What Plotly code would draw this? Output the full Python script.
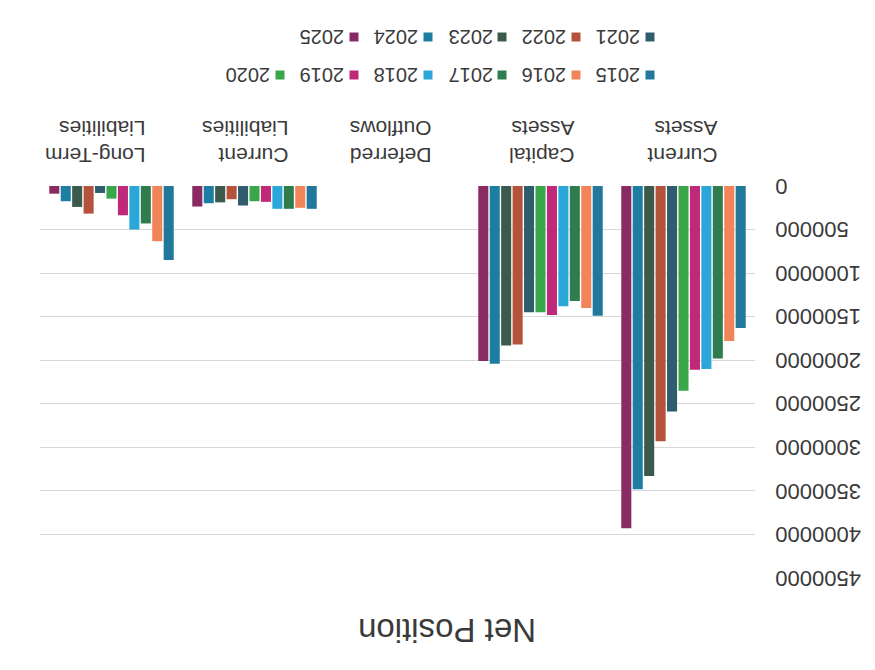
import plotly.graph_objects as go

categories = ["Current<br>Assets", "Capital<br>Assets", "Deferred<br>Outflows",
              "Current<br>Liabilities", "Long-Term<br>Liabilities"]
years = ["2015", "2016", "2017", "2018", "2019", "2020",
         "2021", "2022", "2023", "2024", "2025"]
colors = ["#22789a", "#f2845a", "#2f7d4e", "#2ba6d8", "#c0287a", "#3aa64a",
          "#2f5d6e", "#b5523b", "#3b5a4b", "#1c7ea0", "#8a2a62"]

values = {
    "2015": [1630000, 1490000, 0, 262000, 850000],
    "2016": [1780000, 1400000, 0, 250000, 634000],
    "2017": [1980000, 1320000, 0, 262000, 430000],
    "2018": [2100000, 1380000, 0, 262000, 500000],
    "2019": [2110000, 1480000, 0, 182000, 336000],
    "2020": [2350000, 1450000, 0, 175000, 145000],
    "2021": [2590000, 1450000, 0, 224000, 80000],
    "2022": [2930000, 1820000, 0, 152000, 317000],
    "2023": [3330000, 1830000, 0, 188000, 240000],
    "2024": [3480000, 2040000, 0, 198000, 175000],
    "2025": [3930000, 2010000, 0, 236000, 88000],
}

title_text = "Net Position"
y_ticks = [0, 500000, 1000000, 1500000, 2000000, 2500000,
           3000000, 3500000, 4000000, 4500000]

FONT = "Liberation Sans, Arial, sans-serif"
TXT = "#3a3a3a"

fig = go.Figure()
for yr, col in zip(years, colors):
    fig.add_trace(go.Bar(name=yr, x=categories, y=values[yr],
                         marker=dict(color=col, line=dict(width=0)),
                         showlegend=False))

# chart is shown rotated 180 degrees (as in the scanned reference)
W, H = 875, 670
OFF = 8  # page body offset
L, R, T, B = 40 - OFF, 120 + OFF, 186 - OFF, 92 + OFF
pw, ph = W - L - R, H - T - B

def px2paper(x, y):
    return (x - OFF - L) / pw, (H - B - (y - OFF)) / ph

annotations = []
shapes = []
# legend rows (rotated): row of 2021-2025 on top, 2015-2020 below
rows = [(years[6:], 37), (years[:6], 75)]
for row_years, py in rows:
    for i, yr in enumerate(row_years):
        col = colors[years.index(yr)]
        mx = 650 - i * 74
        tx = 618 - i * 74
        ax, ay = px2paper(tx, py)
        annotations.append(dict(text=yr, x=ax, y=ay, xref="paper", yref="paper",
                                showarrow=False, textangle=180,
                                xanchor="center", yanchor="middle",
                                font=dict(family=FONT, size=20, color=TXT)))
        x0, y0 = px2paper(mx - 4.5, py + 4.5)
        x1, y1 = px2paper(mx + 4.5, py - 4.5)
        shapes.append(dict(type="rect", xref="paper", yref="paper",
                           x0=x0, x1=x1, y0=y0, y1=y1,
                           fillcolor=col, line=dict(width=0)))

tx, ty = px2paper(447, 631)
annotations.append(dict(text=title_text, x=tx, y=ty, xref="paper", yref="paper",
                        showarrow=False, textangle=180,
                        xanchor="center", yanchor="middle",
                        font=dict(family=FONT, size=33, color=TXT)))

# pad labels with figure spaces so the rotated labels line up at the axis side
width = max(len(str(v)) for v in y_ticks)
y_ticktext = ["\u2007" * (width - len(str(v))) + str(v) for v in y_ticks]

fig.update_layout(
    width=W, height=H,
    margin=dict(l=L, r=R, t=T, b=B, pad=0),
    paper_bgcolor="white", plot_bgcolor="white",
    barmode="group", bargap=0.12, bargroupgap=0.12,
    annotations=annotations, shapes=shapes,
    font=dict(family=FONT, color=TXT),
)
fig.update_xaxes(side="top", autorange="reversed", tickangle=180,
                 showgrid=False, showline=False, ticks="", automargin=False,
                 ticklabelstandoff=25, ticklabelshift=-34,
                 tickfont=dict(family=FONT, size=21, color=TXT))
fig.update_yaxes(side="right", range=[4500000, 0], tickvals=y_ticks,
                 ticktext=y_ticktext, tickangle=180,
                 showgrid=True, gridcolor="#d9d9d9", gridwidth=1,
                 zeroline=False, showline=False, ticks="", automargin=False,
                 ticklabelstandoff=105, ticklabelshift=-7,
                 tickfont=dict(family=FONT, size=22, color=TXT))

fig.write_html("out.html")
